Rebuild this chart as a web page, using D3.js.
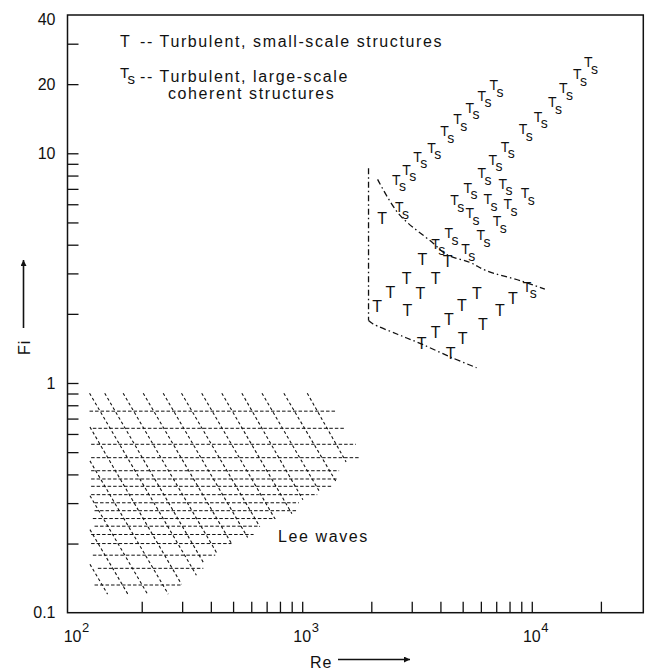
<!DOCTYPE html>
<html>
<head>
<meta charset="utf-8">
<script src="https://cdn.jsdelivr.net/npm/d3@7/dist/d3.min.js"></script>
<style>
  body { margin: 0; background: #fff; }
  svg { display: block; font-family: "Liberation Sans", Arial, Helvetica, sans-serif; }
  text { fill: #111; }
</style>
</head>
<body>
<div id="chart"></div>
<script>
// T -- small-scale turbulence, [Re, Fi]
const turbulent = [
  [2230, 5.2], [3340, 3.47], [4300, 3.4], [2850, 2.87], [3810, 2.87],
  [2420, 2.49], [3270, 2.45], [2120, 2.15], [2870, 2.08], [5760, 2.47],
  [4960, 2.19], [8280, 2.35], [7260, 2.08], [4350, 1.89], [6120, 1.81],
  [3810, 1.66], [5000, 1.56], [3310, 1.49], [4430, 1.35]
];

// Ts -- large-scale coherent structures, [Re, Fi]
const turbulentLarge = [
  [2570, 7.69], [2850, 8.5], [3180, 9.68], [3660, 10.6], [4170, 12.5],
  [4750, 14.1], [5370, 15.8], [6060, 17.8], [6840, 19.8],
  [17640, 24.9], [15780, 22.1], [13710, 19.2], [12280, 16.7], [10660, 14.4],
  [9160, 12.7], [7640, 10.7], [6770, 9.39], [6060, 8.17], [5260, 7.1], [4610, 6.24],
  [7480, 7.39], [9350, 6.69], [6440, 6.3], [7870, 6.0], [5370, 5.48], [7050, 5.06],
  [4350, 4.49], [6000, 4.4], [3810, 4.03], [5150, 3.83], [2650, 5.82], [9530, 2.62]
];

// regime boundaries (dash-dot), [Re, Fi]
const boundaryLeft = [[1945, 8.6], [1945, 1.87]];
const boundaryLower = [[1945, 1.87], [2030, 1.81], [2600, 1.63], [3300, 1.48], [4400, 1.3], [5750, 1.165]];
const boundaryUpper = [[2130, 7.7], [2650, 5.41], [3700, 4.08], [4250, 3.63], [5370, 3.35], [6350, 3.08], [8900, 2.79], [11400, 2.56]];

// Lee waves hatching: horizontal dashes [Fi, Re start, Re end]
const leeHorizontal = [
  [0.754, 118.5, 1400], [0.635, 122.5, 1522], [0.541, 120.4, 1713], [0.473, 120.4, 1771],
  [0.415, 120.4, 1448], [0.382, 120.4, 1423], [0.355, 120.4, 1353], [0.3265, 120.4, 1163],
  [0.301, 124.6, 967], [0.278, 124.6, 951], [0.257, 122.5, 765], [0.238, 124.6, 646],
  [0.219, 120.4, 614], [0.2, 120.4, 492], [0.178, 122.5, 418], [0.156, 128.8, 371],
  [0.132, 124.6, 298]
];

// Lee waves hatching: slanted dashes [Re0, Fi0, Re1, Fi1]
const leeDiagonal = [
  [1052, 0.9025, 1553, 0.4536], [832, 0.9025, 1405, 0.3716], [668, 0.9025, 1183, 0.34],
  [546, 0.9025, 1007, 0.3105], [446.5, 0.9025, 901.5, 0.27], [365, 0.9025, 759.5, 0.257],
  [298, 0.9025, 653, 0.237], [248, 0.9025, 578.5, 0.2127], [203, 0.9025, 492, 0.2],
  [166, 0.9025, 423, 0.183], [138, 0.9025, 375, 0.1625], [118.5, 0.9025, 346, 0.1456],
  [119, 0.643, 298, 0.133], [119, 0.458, 261, 0.1205], [119, 0.323, 212, 0.1205],
  [119, 0.23, 174, 0.1205], [119, 0.1625, 142, 0.1205]
];

const xTicks = [200, 300, 400, 500, 600, 700, 800, 900, 1000,
  2000, 3000, 4000, 5000, 6000, 7000, 8000, 9000, 10000, 20000];
const xLabelValues = [100, 1000, 10000];
const xLabelExponents = ["2", "3", "4"];

const yTicks = [0.2, 0.3, 0.4, 0.5, 0.6, 0.7, 0.8, 0.9, 1,
  2, 3, 4, 5, 6, 7, 8, 9, 10, 20, 30];
const yLabelValues = [0.1, 1, 10, 20, 40];
const yTickLabels = ["0.1", "1", "10", "20", "40"];

(function regime_diagram() {

  const width = 646,
    height = 670;

  const x = d3.scaleLog().domain([95, 30600]).range([67.5, 643.3]);
  const y = d3.scaleLog().domain([0.1, 40]).range([612.7, 15]);

  const svg = d3.select("#chart")
    .append("svg")
    .attr("width", width)
    .attr("height", height);

  const defs = svg.append("defs");
  defs.append("marker")
    .attr("id", "arrow")
    .attr("viewBox", "0 0 10 10")
    .attr("refX", 10).attr("refY", 5)
    .attr("markerUnits", "userSpaceOnUse")
    .attr("markerWidth", 10).attr("markerHeight", 6)
    .attr("orient", "auto")
    .append("path")
    .attr("d", "M0,0L10,5L0,10z")
    .attr("fill", "#111");

  // frame
  svg.append("rect")
    .attr("x", x.range()[0])
    .attr("y", y.range()[1])
    .attr("width", x.range()[1] - x.range()[0])
    .attr("height", y.range()[0] - y.range()[1])
    .attr("fill", "none")
    .attr("stroke", "#111")
    .attr("stroke-width", 1.5);

  // inward ticks
  svg.append("g")
    .attr("transform", `translate(0,${y.range()[0]})`)
    .call(d3.axisBottom(x).tickValues(xTicks).tickSize(-11).tickFormat(""))
    .call(g => g.select(".domain").remove())
    .call(g => g.selectAll("line").attr("stroke", "#111").attr("stroke-width", 1.3));

  svg.append("g")
    .attr("transform", `translate(${x.range()[0]},0)`)
    .call(d3.axisLeft(y).tickValues(yTicks).tickSize(-11).tickFormat(""))
    .call(g => g.select(".domain").remove())
    .call(g => g.selectAll("line").attr("stroke", "#111").attr("stroke-width", 1.3));

  // y tick labels
  svg.append("g")
    .selectAll("text")
    .data(yLabelValues)
    .join("text")
    .attr("x", x.range()[0] - 12)
    .attr("y", d => y(d))
    .attr("dy", (d, i) => i === yLabelValues.length - 1 ? "0.6em" : "0.36em")
    .attr("text-anchor", "end")
    .attr("font-size", 16)
    .text((d, i) => yTickLabels[i]);

  // x tick labels 10^n
  const xl = svg.append("g")
    .selectAll("g")
    .data(xLabelValues)
    .join("g")
    .attr("transform", d => `translate(${x(d)},641.5)`);
  xl.append("text")
    .attr("text-anchor", "middle")
    .attr("font-size", 16)
    .text("10");
  xl.append("text")
    .attr("x", 9.5)
    .attr("y", -10)
    .attr("font-size", 13)
    .text((d, i) => xLabelExponents[i]);

  // axis titles
  svg.append("text")
    .attr("x", 310).attr("y", 668)
    .attr("font-size", 16)
    .attr("letter-spacing", 1)
    .text("Re");
  svg.append("line")
    .attr("x1", 338).attr("x2", 410)
    .attr("y1", 659.5).attr("y2", 659.5)
    .attr("stroke", "#111").attr("stroke-width", 1.6)
    .attr("marker-end", "url(#arrow)");

  svg.append("text")
    .attr("transform", "translate(30,355) rotate(-90)")
    .attr("font-size", 16)
    .attr("letter-spacing", 1)
    .text("Fi");
  svg.append("line")
    .attr("x1", 23.5).attr("x2", 23.5)
    .attr("y1", 328).attr("y2", 260)
    .attr("stroke", "#111").attr("stroke-width", 1.6)
    .attr("marker-end", "url(#arrow)");

  // legend
  const legend = svg.append("g")
    .attr("font-size", 16)
    .attr("letter-spacing", 1.6);
  legend.append("text").attr("x", 120).attr("y", 46.5).attr("letter-spacing", 0).text("T");
  legend.append("text").attr("x", 140).attr("y", 46.5).text("-- Turbulent, small-scale structures");
  const lt = legend.append("text").attr("x", 120).attr("y", 77.5).attr("letter-spacing", 0).attr("font-size", 15);
  lt.append("tspan").text("T");
  lt.append("tspan").attr("dy", 6).text("s");
  legend.append("text").attr("x", 140).attr("y", 82).text("-- Turbulent, large-scale");
  legend.append("text").attr("x", 168).attr("y", 99).text("coherent structures");

  // Lee waves hatching
  const hatch = svg.append("g")
    .attr("stroke", "#111")
    .attr("fill", "none");
  hatch.selectAll("line.h")
    .data(leeHorizontal)
    .join("line")
    .attr("class", "h")
    .attr("x1", d => x(d[1])).attr("x2", d => x(d[2]))
    .attr("y1", d => y(d[0])).attr("y2", d => y(d[0]))
    .attr("stroke-width", 1)
    .attr("stroke-dasharray", "3.5,2");
  hatch.selectAll("line.d")
    .data(leeDiagonal)
    .join("line")
    .attr("class", "d")
    .attr("x1", d => x(d[0])).attr("y1", d => y(d[1]))
    .attr("x2", d => x(d[2])).attr("y2", d => y(d[3]))
    .attr("stroke-width", 1.1)
    .attr("stroke-dasharray", "3,2.5");

  svg.append("text")
    .attr("x", 278).attr("y", 542)
    .attr("font-size", 16)
    .attr("letter-spacing", 1.6)
    .text("Lee waves");

  // boundaries
  const line = d3.line()
    .x(d => x(d[0]))
    .y(d => y(d[1]))
    .curve(d3.curveCatmullRom);

  svg.append("g")
    .selectAll("path")
    .data([boundaryLeft, boundaryLower, boundaryUpper])
    .join("path")
    .attr("d", line)
    .attr("fill", "none")
    .attr("stroke", "#111")
    .attr("stroke-width", 1.3)
    .attr("stroke-dasharray", "6,3,1.5,3");

  // T markers
  svg.append("g")
    .selectAll("text")
    .data(turbulent)
    .join("text")
    .attr("x", d => x(d[0]))
    .attr("y", d => y(d[1]))
    .attr("dy", "0.36em")
    .attr("text-anchor", "middle")
    .attr("font-size", 16)
    .text("T");

  // Ts markers
  const ts = svg.append("g")
    .attr("font-size", 14)
    .selectAll("text")
    .data(turbulentLarge)
    .join("text")
    .attr("x", d => x(d[0]) - 4.3)
    .attr("y", d => y(d[1]))
    .attr("dy", "0.36em");
  ts.append("tspan").text("T");
  ts.append("tspan").attr("dy", 6.5).text("s");

})();
</script>
</body>
</html>
